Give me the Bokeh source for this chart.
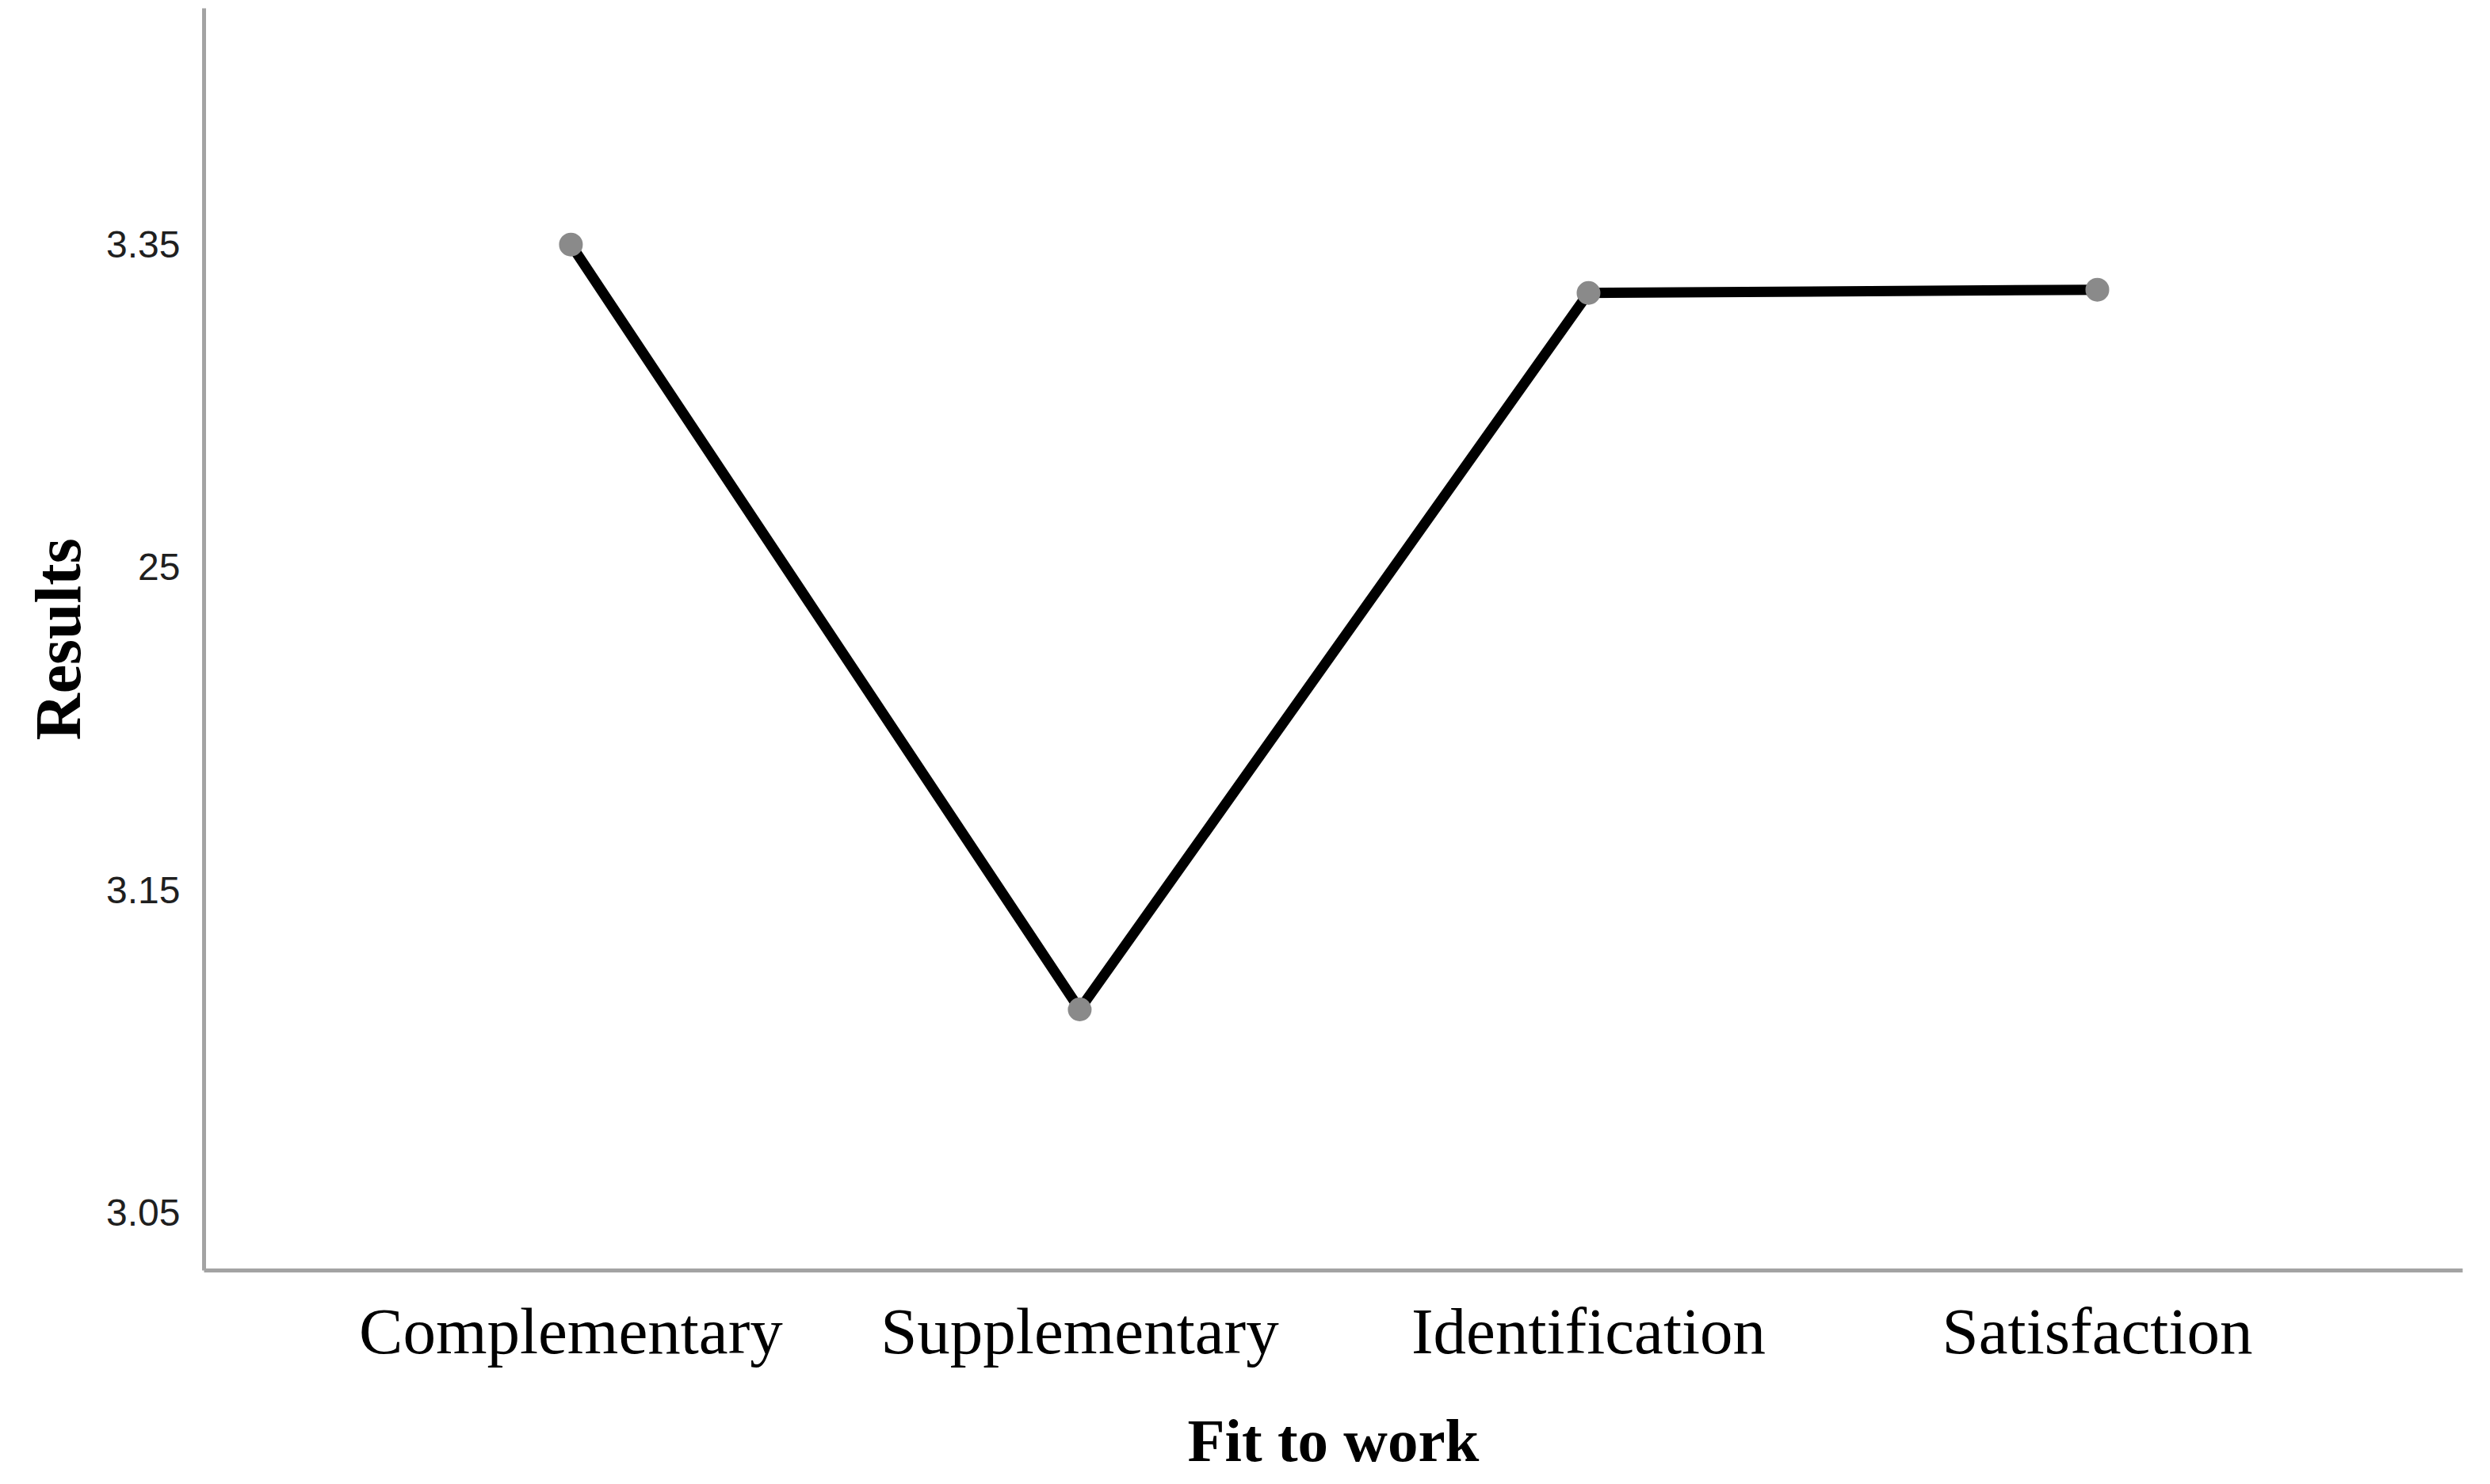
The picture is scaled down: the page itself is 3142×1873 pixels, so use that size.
from bokeh.plotting import figure
from bokeh.models import ColumnDataSource, FixedTicker, Range1d
from bokeh.embed import file_html
from bokeh.resources import INLINE

categories = ["Complementary", "Supplementary", "Identification", "Satisfaction"]
results = [3.350, 3.113, 3.335, 3.336]
y_ticks = [3.05, 3.15, 3.25, 3.35]
y_tick_labels = ["3.05", "3.15", "25", "3.35"]

xs = list(range(len(categories)))
src = ColumnDataSource(data=dict(x=xs, y=results, cat=categories))

p = figure(width=3134, height=1865, output_backend="svg", toolbar_location=None,
           x_range=Range1d(-0.721, 3.718), y_range=Range1d(3.0321, 3.4232),
           min_border_left=257, min_border_top=10, min_border_right=27, min_border_bottom=262)
p.outline_line_color = None
p.xgrid.grid_line_color = None
p.ygrid.grid_line_color = None
p.background_fill_color = "white"
p.border_fill_color = "white"

p.line("x", "y", source=src, line_color="black", line_width=13, line_join="miter")
p.scatter("x", "y", source=src, size=30, fill_color="#8a8a8a", line_color=None)

xa = p.xaxis[0]
xa.ticker = FixedTicker(ticks=xs)
xa.major_label_overrides = {i: c for i, c in zip(xs, categories)}
xa.axis_label = "Fit to work"
xa.axis_line_color = "#a3a3a3"
xa.axis_line_width = 5
xa.major_tick_line_color = None
xa.minor_tick_line_color = None
xa.major_tick_out = 0
xa.major_tick_in = 0
xa.major_label_standoff = 30
xa.major_label_text_font = "Liberation Serif"
xa.major_label_text_font_size = "83px"
xa.major_label_text_color = "black"
xa.axis_label_standoff = 46
xa.axis_label_text_font = "Liberation Serif"
xa.axis_label_text_font_style = "bold"
xa.axis_label_text_font_size = "77px"
xa.axis_label_text_color = "black"

ya = p.yaxis[0]
ya.ticker = FixedTicker(ticks=y_ticks)
ya.major_label_overrides = {t: l for t, l in zip(y_ticks, y_tick_labels)}
ya.axis_label = "Results"
ya.axis_line_color = "#a3a3a3"
ya.axis_line_width = 5
ya.major_tick_line_color = None
ya.minor_tick_line_color = None
ya.major_tick_out = 0
ya.major_tick_in = 0
ya.major_label_standoff = 30
ya.major_label_text_font = "Liberation Sans"
ya.major_label_text_font_size = "48px"
ya.major_label_text_color = "#1f1f1f"
ya.axis_label_standoff = 12
ya.axis_label_text_font = "Liberation Serif"
ya.axis_label_text_font_style = "bold"
ya.axis_label_text_font_size = "82px"
ya.axis_label_text_color = "black"

open("out.html", "w").write(file_html(p, INLINE))
